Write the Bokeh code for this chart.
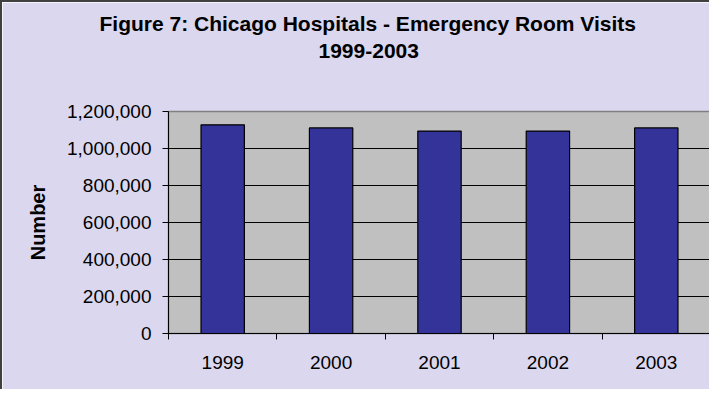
from bokeh.plotting import figure
from bokeh.models import (FixedTicker, NumeralTickFormatter, CustomJSTickFormatter,
                          Title, Range1d)
from bokeh.embed import file_html
from bokeh.resources import INLINE

# ---- data ----
years = ["1999", "2000", "2001", "2002", "2003"]
visits = [1128000, 1111000, 1094000, 1094000, 1111000]
y_ticks = [0, 200000, 400000, 600000, 800000, 1000000, 1200000]
title_line1 = "Figure 7:  Chicago Hospitals - Emergency Room Visits"
title_line2 = "1999-2003"
y_label = "Number"

# ---- style ----
BG = "#DAD7EE"
PLOT_BG = "#C0C0C0"
BAR = "#333399"
FONT = "Liberation Sans"

x_pos = [i + 0.5 for i in range(len(years))]
bounds = list(range(len(years) + 1))

p = figure(width=709, height=389, output_backend="svg", toolbar_location=None,
           x_range=Range1d(0, len(years)), y_range=Range1d(0, y_ticks[-1]),
           min_border_left=166, min_border_right=1, min_border_top=109,
           min_border_bottom=58)
p.styles = {"border-left": "2px solid #404040", "border-top": "2px solid #404040"}
p.title.visible = False
p.border_fill_color = BG
p.background_fill_color = PLOT_BG
p.outline_line_color = "#808080"
p.outline_line_width = 1.5

p.vbar(x=x_pos, top=visits, width=0.4, fill_color=BAR, line_color="black",
       line_width=1.2)

# grid
p.xgrid.visible = False
p.ygrid.ticker = FixedTicker(ticks=y_ticks[1:-1])
p.ygrid.grid_line_color = "black"
p.ygrid.grid_line_width = 1

# y axis
ya = p.yaxis[0]
ya.ticker = FixedTicker(ticks=y_ticks)
ya.formatter = NumeralTickFormatter(format="0,0")
ya.major_tick_out = 6
ya.major_tick_in = 0
ya.minor_tick_out = 0
ya.minor_tick_in = 0
ya.axis_line_color = "black"
ya.major_tick_line_color = "black"
ya.major_label_text_font = FONT
ya.major_label_text_font_size = "19px"
ya.major_label_text_color = "black"
ya.major_label_standoff = 11
ya.axis_label = y_label
ya.axis_label_text_font = FONT
ya.axis_label_text_font_size = "20px"
ya.axis_label_text_font_style = "bold"
ya.axis_label_text_color = "black"
ya.axis_label_standoff = 15

# x axis
xa = p.xaxis[0]
xa.ticker = FixedTicker(ticks=x_pos, minor_ticks=bounds)
xa.formatter = CustomJSTickFormatter(args=dict(labels=years),
                                     code="return labels[Math.floor(tick)];")
xa.major_tick_out = 0
xa.major_tick_in = 0
xa.minor_tick_out = 6
xa.minor_tick_in = 0
xa.minor_tick_line_color = "black"
xa.axis_line_color = "black"
xa.major_label_text_font = FONT
xa.major_label_text_font_size = "19px"
xa.major_label_text_color = "black"
xa.major_label_standoff = 16

# title (two lines) as stacked Title annotations, with a spacer next to the frame
HAS_STANDOFF = "standoff" in Title.properties()


def make_title(text, offset, standoff, size="21px"):
    kw = dict(text=text, align="left", offset=offset, text_font=FONT,
              text_font_style="bold", text_font_size=size, text_color="black")
    if HAS_STANDOFF:
        kw["standoff"] = standoff
    return Title(**kw)


p.add_layout(make_title(" ", 0, 51, size="1px"), "above")     # spacer
p.add_layout(make_title(title_line2, 150, 0), "above")
p.add_layout(make_title(title_line1, -69, 14), "above")

open("out.html", "w").write(file_html(p, INLINE))
